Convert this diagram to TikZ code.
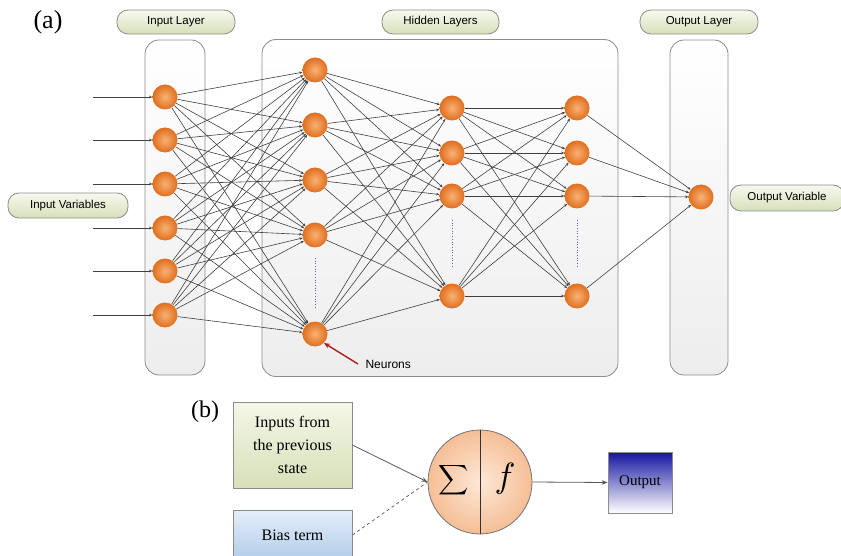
\documentclass[tikz,border=0pt]{standalone}
\usepackage{graphicx}
\usepackage{fontspec}
\setmainfont{Liberation Serif}
\setsansfont{Liberation Sans}
\usetikzlibrary{arrows.meta}
\definecolor{pillTop}{RGB}{247,249,238}
\definecolor{pillBot}{RGB}{214,224,186}
\definecolor{nIn}{RGB}{248,178,116}
\definecolor{nOut}{RGB}{224,110,30}
\definecolor{greenTop}{RGB}{244,247,232}
\definecolor{greenBot}{RGB}{214,224,184}
\definecolor{blueTop}{RGB}{228,238,250}
\definecolor{blueBot}{RGB}{178,204,232}
\definecolor{outTop}{RGB}{20,20,160}
\definecolor{peachIn}{RGB}{253,232,214}
\definecolor{peachOut}{RGB}{245,190,150}
\definecolor{pointer}{RGB}{170,30,30}
\begin{document}
\begin{tikzpicture}[x=1pt,y=-1pt,
  panel/.style={draw=black!45, line width=0.8pt, rounded corners=14pt, top color=white, bottom color=black!7, inner sep=0pt},
  pill/.style={draw=black!45, line width=0.8pt, rounded corners=11pt, top color=pillTop, bottom color=pillBot, minimum height=24pt, inner sep=2pt, font=\sffamily\fontsize{11.5}{13}\selectfont},
  neuron/.style={circle, minimum size=25pt, inner sep=0pt, inner color=nIn, outer color=nOut},
  conn/.style={draw=black!75, line width=0.6pt, -{Stealth[length=3.2pt,width=2.6pt]}},
  bconn/.style={draw=black!65, line width=0.8pt, -{Stealth[length=6pt,width=4.5pt]}},
  dots/.style={draw=black!45!blue!60, line width=0.7pt, dotted},
  bbox/.style={draw=black!45, line width=0.8pt, inner sep=0pt, font=\fontsize{16}{23}\selectfont, align=center}
]
\useasboundingbox (0,0) rectangle (841,556);

% panel labels
\node[font=\fontsize{26}{28}\selectfont] (la) at (48,22) {(a)};
\node[font=\fontsize{24}{26}\selectfont] (lb) at (205,412) {(b)};

% layer panels
\node[panel, minimum width=60pt, minimum height=335pt] (pin) at (175,207.5) {};
\node[panel, minimum width=356pt, minimum height=337pt] (phid) at (440,208) {};
\node[panel, minimum width=58pt, minimum height=335pt] (pout) at (699,207.5) {};

% pills
\node[pill, minimum width=118pt] (tin) at (176,22) {Input Layer};
\node[pill, minimum width=117pt] (thid) at (440.5,22) {Hidden Layers};
\node[pill, minimum width=118pt] (tout) at (699,22) {Output Layer};
\node[pill, minimum width=120pt, minimum height=25pt] (tvar) at (68,205.5) {Input Variables};
\node[pill, minimum width=114pt, minimum height=26pt] (tovar) at (787,198) {Output Variable};

% neurons
\foreach \y [count=\k] in {97,140,184,228,271,315}
  \node[neuron] (i\k) at (165,\y) {};
\foreach \y [count=\k] in {70,125,180,235,334}
  \node[neuron] (ha\k) at (315,\y) {};
\foreach \y [count=\k] in {108,153,196,296}
  \node[neuron] (hb\k) at (452,\y) {};
\foreach \y [count=\k] in {108,153,196,296}
  \node[neuron] (hc\k) at (577,\y) {};
\node[neuron] (o) at (701,197) {};

% dotted ellipsis marks
\draw[dots] (315,258) -- (315,307);
\draw[dots] (452,220) -- (452,268);
\draw[dots] (577,220) -- (577,268);

% input arrows
\foreach \y [count=\k] in {97,140,184,228,271,315} {
  \coordinate (s\k) at (93,\y);
  \draw[conn] (s\k) -- (i\k);
}

% connections
\foreach \a in {1,...,6}
  \foreach \b in {1,...,5}
    \draw[conn] (i\a) -- (ha\b);
\foreach \a in {1,...,5}
  \foreach \b in {1,...,4}
    \draw[conn] (ha\a) -- (hb\b);
\foreach \a in {1,...,4}
  \foreach \b in {1,...,4}
    \draw[conn] (hb\a) -- (hc\b);
\foreach \a in {1,...,4}
  \draw[conn] (hc\a) -- (o);

% neurons pointer
\node[font=\sffamily\fontsize{12}{14}\selectfont, anchor=west] (nlab) at (362,364) {Neurons};
\coordinate (ptail) at (358,364);
\draw[draw=pointer, line width=1.4pt, -{Stealth[length=6pt,width=5pt]}] (ptail) -- (ha5.south east);

% part (b)
\node[bbox, top color=greenTop, bottom color=greenBot, minimum width=119pt, minimum height=86pt] (inp) at (292.5,445) {Inputs from\\the previous\\state};
\node[bbox, top color=blueTop, bottom color=blueBot, minimum width=119pt, minimum height=50pt] (bias) at (292.5,535) {Bias term};
\node[circle, draw=black!55, line width=0.8pt, minimum size=104pt, inner sep=0pt, inner color=peachIn, outer color=peachOut] (sum) at (480,482) {};
\draw[black!80, line width=0.9pt] (sum.north) -- (sum.south);
\node[inner sep=0pt] (sig) at (454,480) {\scalebox{2.1}{$\displaystyle\sum$}};
\node[inner sep=0pt] (fn) at (505,479) {\scalebox{3.5}{$f$}};
\node[draw=black!45, line width=0.8pt, top color=outTop, bottom color=white, minimum width=64pt, minimum height=61pt, inner sep=0pt, font=\fontsize{15}{17}\selectfont] (outb) at (640,482.5) {Output};

\draw[bconn] (inp.east) -- (sum.west);
\draw[draw=black!60, line width=0.8pt, dashed] (bias.east) -- (sum.west);
\draw[bconn] (sum.east) -- (outb.west);
\end{tikzpicture}
\end{document}
